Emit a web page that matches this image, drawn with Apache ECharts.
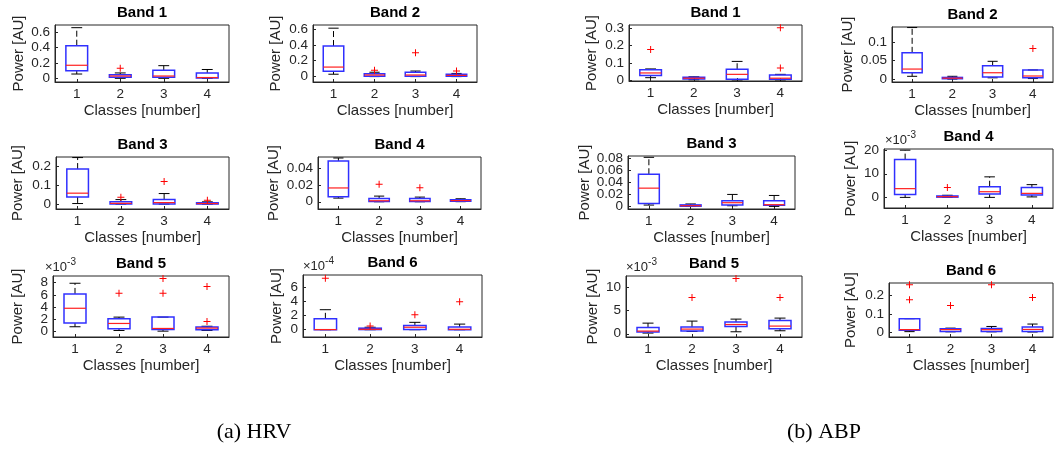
<!DOCTYPE html>
<html>
<head>
<meta charset="utf-8">
<script src="https://cdn.jsdelivr.net/npm/echarts@6/dist/echarts.min.js"></script>
<style>
  html, body { margin: 0; padding: 0; background: #fff; }
  #chart { width: 1055px; height: 451px; }
</style>
</head>
<body>
<div id="chart"></div>
<script>
// Class labels on every x axis
const classes = ['1', '2', '3', '4'];

// Box statistics per class: [lower whisker, Q1, median, Q3, upper whisker]
// Outliers: [class index (0-based), value]

// ---- HRV ----
const hrvBand1 = [[0.056, 0.10, 0.17, 0.425, 0.66], [0.0, 0.015, 0.03, 0.045, 0.07], [0.0, 0.013, 0.03, 0.105, 0.165], [0.0, 0.005, 0.01, 0.07, 0.115]];
const hrvBand1Outliers = [[1, 0.13]];
const hrvBand2 = [[0.03, 0.067, 0.12, 0.385, 0.61], [0.0, 0.005, 0.02, 0.035, 0.055], [0.0, 0.003, 0.02, 0.055, 0.07], [0.0, 0.005, 0.015, 0.03, 0.04]];
const hrvBand2Outliers = [[1, 0.08], [2, 0.30], [3, 0.07]];
const hrvBand3 = [[0.003, 0.038, 0.058, 0.186, 0.247], [0.0, 0.001, 0.004, 0.012, 0.024], [0.0, 0.001, 0.008, 0.024, 0.056], [0.0, 0.0005, 0.003, 0.007, 0.012]];
const hrvBand3Outliers = [[1, 0.037], [2, 0.12], [3, 0.02]];
const hrvBand4 = [[0.0044, 0.0059, 0.0166, 0.049, 0.0526], [0.0, 0.0003, 0.0012, 0.004, 0.0068], [0.0, 0.0003, 0.0012, 0.004, 0.0056], [0.0001, 0.0005, 0.0014, 0.0025, 0.0036]];
const hrvBand4Outliers = [[1, 0.021], [2, 0.0168]];
// Band 5 in units of 1e-3
const hrvBand5 = [[0.77, 1.37, 3.8, 6.15, 7.9], [0.16, 0.44, 1.31, 2.07, 2.35], [0.05, 0.33, 0.49, 2.35, 2.35], [0.16, 0.27, 0.55, 0.71, 0.85]];
const hrvBand5Outliers = [[1, 6.27], [2, 8.7], [2, 6.27], [3, 7.35], [3, 1.63]];
// Band 6 in units of 1e-4
const hrvBand6 = [[0.0, 0.0, 0.02, 1.55, 2.85], [0.0, 0.02, 0.06, 0.22, 0.35], [0.0, 0.03, 0.35, 0.6, 1.05], [0.0, 0.01, 0.06, 0.38, 0.8]];
const hrvBand6Outliers = [[0, 7.33], [1, 0.52], [2, 2.13], [3, 4.0]];

// ---- ABP ----
const abpBand1 = [[0.015, 0.028, 0.042, 0.06, 0.065], [0.003, 0.007, 0.012, 0.017, 0.02], [0.002, 0.006, 0.034, 0.063, 0.108], [0.002, 0.006, 0.012, 0.03, 0.034]];
const abpBand1Outliers = [[0, 0.176], [3, 0.3], [3, 0.071]];
const abpBand2 = [[0.008, 0.0175, 0.0273, 0.0706, 0.138], [0.0005, 0.0015, 0.003, 0.005, 0.008], [0.004, 0.006, 0.0175, 0.036, 0.048], [0.002, 0.0044, 0.0088, 0.0247, 0.025]];
const abpBand2Outliers = [[3, 0.082]];
const abpBand3 = [[0.0027, 0.0055, 0.0307, 0.0537, 0.0817], [0.0003, 0.0008, 0.0016, 0.003, 0.0045], [0.0016, 0.0027, 0.0066, 0.0099, 0.0203], [0.0005, 0.0022, 0.0033, 0.0099, 0.0186]];
const abpBand3Outliers = [];
// Band 4 in units of 1e-3
const abpBand4 = [[0.0, 1.27, 3.7, 16.0, 20.0], [0.0, 0.1, 0.3, 0.6, 0.9], [0.0, 1.4, 2.4, 4.5, 8.7], [0.2, 1.0, 1.7, 4.2, 5.4]];
const abpBand4Outliers = [[1, 4.2]];
// Band 5 in units of 1e-3
const abpBand5 = [[0.15, 0.37, 0.58, 1.36, 2.3], [0.5, 0.58, 1.01, 1.44, 2.74], [0.43, 1.58, 2.0, 2.52, 3.17], [0.65, 1.08, 1.66, 2.87, 3.39]];
const abpBand5Outliers = [[1, 7.84], [2, 11.95], [3, 7.84]];
const abpBand6 = [[0.004, 0.011, 0.015, 0.074, 0.074], [0.003, 0.005, 0.015, 0.02, 0.023], [0.003, 0.0054, 0.0146, 0.0216, 0.032], [0.002, 0.0054, 0.016, 0.029, 0.045]];
const abpBand6Outliers = [[0, 0.258], [0, 0.177], [1, 0.146], [2, 0.258], [3, 0.189]];

// Y tick values
const hrvTicks1 = [0, 0.2, 0.4, 0.6];
const hrvTicks2 = [0, 0.2, 0.4, 0.6];
const hrvTicks3 = [0, 0.1, 0.2];
const hrvTicks4 = [0, 0.02, 0.04];
const hrvTicks5 = [0, 2, 4, 6, 8];
const hrvTicks6 = [0, 2, 4, 6];
const abpTicks1 = [0, 0.1, 0.2, 0.3];
const abpTicks2 = [0, 0.05, 0.1];
const abpTicks3 = [0, 0.02, 0.04, 0.06, 0.08];
const abpTicks4 = [0, 10, 20];
const abpTicks5 = [0, 5, 10];
const abpTicks6 = [0, 0.1, 0.2];

// Panel layout and axis limits
const panels = [
  { title: 'Band 1', box: hrvBand1, out: hrvBand1Outliers, ticks: hrvTicks1, min: -0.048, max: 0.695, exp: null, rect: [55, 25, 174, 57], yGap: 29 },
  { title: 'Band 2', box: hrvBand2, out: hrvBand2Outliers, ticks: hrvTicks2, min: -0.068, max: 0.65, exp: null, rect: [313, 25, 164, 57], yGap: 29.5 },
  { title: 'Band 3', box: hrvBand3, out: hrvBand3Outliers, ticks: hrvTicks3, min: -0.026, max: 0.25, exp: null, rect: [56, 157, 173, 52], yGap: 31 },
  { title: 'Band 4', box: hrvBand4, out: hrvBand4Outliers, ticks: hrvTicks4, min: -0.0087, max: 0.0538, exp: null, rect: [318, 157, 163, 52], yGap: 37 },
  { title: 'Band 5', box: hrvBand5, out: hrvBand5Outliers, ticks: hrvTicks5, min: -0.91, max: 9.09, exp: '-3', expX: 45, rect: [53, 276, 176, 61], yGap: 27.5 },
  { title: 'Band 6', box: hrvBand6, out: hrvBand6Outliers, ticks: hrvTicks6, min: -1.04, max: 7.8, exp: '-4', expX: 303, rect: [303, 275, 179, 62], yGap: 19 },
  { title: 'Band 1', box: abpBand1, out: abpBand1Outliers, ticks: abpTicks1, min: -0.004, max: 0.316, exp: null, rect: [629, 25, 173, 56], yGap: 29.5 },
  { title: 'Band 2', box: abpBand2, out: abpBand2Outliers, ticks: abpTicks2, min: -0.0072, max: 0.1395, exp: null, rect: [892, 27, 161, 55], yGap: 37 },
  { title: 'Band 3', box: abpBand3, out: abpBand3Outliers, ticks: abpTicks3, min: -0.0038, max: 0.0839, exp: null, rect: [628, 156, 167, 53], yGap: 28.5 },
  { title: 'Band 4', box: abpBand4, out: abpBand4Outliers, ticks: abpTicks4, min: -4.5, max: 20.5, exp: '-3', expX: 885, rect: [884, 149, 169, 59], yGap: 25.5 },
  { title: 'Band 5', box: abpBand5, out: abpBand5Outliers, ticks: abpTicks5, min: -0.7, max: 12.5, exp: '-3', expX: 626, rect: [626, 276, 176, 61], yGap: 26 },
  { title: 'Band 6', box: abpBand6, out: abpBand6Outliers, ticks: abpTicks6, min: -0.025, max: 0.267, exp: null, rect: [889, 283, 164, 54], yGap: 30.5 }
];

const AXIS_COLOR = '#262626';
const SANS = '"Liberation Sans", Arial, Helvetica, sans-serif';
const PLUS = 'path://M3,0h1v7h-1zM0,3h7v1h-7z';

function fmt(v) {
  return String(+v.toFixed(6));
}

// Whiskers (dashed black), caps, blue box and red median line
function renderBox(params, api) {
  const i = api.value(0);
  const band = api.size([1, 0])[0];
  const half = band * 0.25;
  const cap = band * 0.125;
  const pts = [1, 2, 3, 4, 5].map(d => api.coord([i, api.value(d)]));
  const cx = pts[0][0];
  const lo = pts[0][1], q1 = pts[1][1], med = pts[2][1], q3 = pts[3][1], hi = pts[4][1];
  const dashed = { stroke: '#000', lineWidth: 1, lineDash: [6, 3], fill: 'none' };
  const solid = { stroke: '#000', lineWidth: 1, fill: 'none' };
  return {
    type: 'group',
    children: [
      { type: 'line', shape: { x1: cx, y1: q3, x2: cx, y2: hi }, style: dashed },
      { type: 'line', shape: { x1: cx, y1: q1, x2: cx, y2: lo }, style: dashed },
      { type: 'line', shape: { x1: cx - cap, y1: hi, x2: cx + cap, y2: hi }, style: solid },
      { type: 'line', shape: { x1: cx - cap, y1: lo, x2: cx + cap, y2: lo }, style: solid },
      { type: 'rect', shape: { x: cx - half, y: q3, width: 2 * half, height: q1 - q3 }, style: { stroke: '#3030ff', fill: 'none', lineWidth: 1.5 } },
      { type: 'line', shape: { x1: cx - half, y1: med, x2: cx + half, y2: med }, style: { stroke: '#ff2020', lineWidth: 1.2 } }
    ]
  };
}

const grid = [], xAxis = [], yAxis = [], series = [], graphic = [];
const tickLabelStyle = { margin: 5, fontFamily: SANS, fontSize: 13.5, color: AXIS_COLOR, formatter: fmt, showMinLabel: true, showMaxLabel: true };

panels.forEach((p, k) => {
  const [left, top, width, height] = p.rect;
  grid.push({ left, top, width, height, show: true, borderColor: AXIS_COLOR, borderWidth: 1, backgroundColor: '#fff', outerBoundsMode: 'none', containLabel: false });
  xAxis.push({
    type: 'category', gridIndex: k, data: classes, boundaryGap: true,
    name: 'Classes [number]', nameLocation: 'middle', nameGap: 21,
    nameTextStyle: { fontFamily: SANS, fontSize: 15, color: AXIS_COLOR },
    axisLine: { show: true, onZero: false, lineStyle: { color: AXIS_COLOR, width: 1 } },
    axisTick: { show: true, inside: true, length: 3, alignWithLabel: true, lineStyle: { color: AXIS_COLOR } },
    axisLabel: { margin: 5, fontFamily: SANS, fontSize: 13.5, color: AXIS_COLOR },
    splitLine: { show: false }
  });
  // Densely packed tick labels are split across two stacked axes so none is dropped
  const dense = p.ticks.length >= 5;
  const mainLabels = dense ? p.ticks.filter((_, j) => j % 2 === 0) : p.ticks;
  const yIndex = yAxis.length;
  yAxis.push({
    type: 'value', gridIndex: k, min: p.min, max: p.max,
    name: 'Power [AU]', nameLocation: 'middle', nameGap: p.yGap,
    nameTextStyle: { fontFamily: SANS, fontSize: 15, color: AXIS_COLOR },
    axisLine: { show: true, onZero: false, lineStyle: { color: AXIS_COLOR, width: 1 } },
    axisTick: { show: true, inside: true, length: 3, customValues: p.ticks, lineStyle: { color: AXIS_COLOR } },
    axisLabel: Object.assign({ customValues: mainLabels }, tickLabelStyle),
    splitLine: { show: false }
  });
  if (dense) {
    yAxis.push({
      type: 'value', gridIndex: k, min: p.min, max: p.max, position: 'left', offset: 0,
      axisLine: { show: false, onZero: false }, axisTick: { show: false },
      axisLabel: Object.assign({ customValues: p.ticks.filter((_, j) => j % 2 === 1) }, tickLabelStyle),
      splitLine: { show: false }
    });
  }
  series.push({
    type: 'custom', xAxisIndex: k, yAxisIndex: yIndex, clip: false,
    data: p.box.map((b, i) => [i].concat(b)),
    encode: { x: 0, y: [1, 2, 3, 4, 5] },
    renderItem: renderBox, silent: true, z: 2
  });
  series.push({
    type: 'scatter', xAxisIndex: k, yAxisIndex: yIndex,
    data: p.out, symbol: PLUS, symbolSize: 7,
    itemStyle: { color: '#ff0000', opacity: 1 }, silent: true, z: 3
  });
  graphic.push({
    type: 'text', x: left + width / 2, y: top - 12.5,
    style: { text: p.title, fontFamily: SANS, fontSize: 15, fontWeight: 'bold', fill: '#000', align: 'center', verticalAlign: 'middle' }
  });
  if (p.exp) {
    graphic.push({
      type: 'text', x: p.expX, y: top - 9,
      style: {
        text: '{a|×10}{b|' + p.exp + '}', align: 'left', verticalAlign: 'middle',
        rich: {
          a: { fontFamily: SANS, fontSize: 13, lineHeight: 20, fill: AXIS_COLOR, color: AXIS_COLOR },
          b: { fontFamily: SANS, fontSize: 10, lineHeight: 11, verticalAlign: 'top', fill: AXIS_COLOR, color: AXIS_COLOR }
        }
      }
    });
  }
});

// Sub-figure captions
const SERIF = '"Liberation Serif", "Times New Roman", serif';
graphic.push({ type: 'text', x: 254, y: 432, style: { text: '(a) HRV', fontFamily: SERIF, fontSize: 22, fill: '#000', align: 'center', verticalAlign: 'middle' } });
graphic.push({ type: 'text', x: 824, y: 432, style: { text: '(b) ABP', fontFamily: SERIF, fontSize: 22, fill: '#000', align: 'center', verticalAlign: 'middle' } });

const chart = echarts.init(document.getElementById('chart'), null, { renderer: 'canvas' });
chart.setOption({ animation: false, backgroundColor: '#fff', grid, xAxis, yAxis, series, graphic });
</script>
</body>
</html>
